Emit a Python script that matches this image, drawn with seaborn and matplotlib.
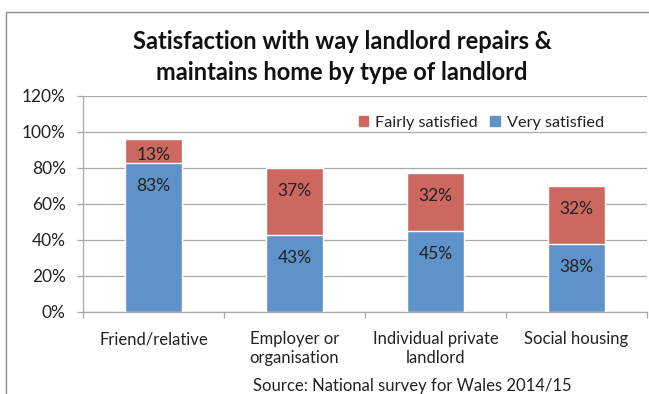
import matplotlib
matplotlib.use("Agg")
import matplotlib.pyplot as plt
from matplotlib.patches import Rectangle
from matplotlib.ticker import FuncFormatter, FixedLocator
import seaborn as sns
import pandas as pd

# Survey results (% of renters)
categories = ["Friend/relative", "Employer or\norganisation",
              "Individual private\nlandlord", "Social housing"]
very_satisfied = [83, 43, 45, 38]
fairly_satisfied = [13, 37, 32, 32]
series_names = ["Fairly satisfied", "Very satisfied"]
title = "Satisfaction with way landlord repairs &\nmaintains home by type of landlord"
source = "Source: National survey for Wales 2014/15"

RED = "#CC6860"
BLUE = "#5E92C8"
GRID = "#A8A8A8"
TEXT = "#222222"

sns.set_theme(style="white")
plt.rcParams["font.family"] = ["Lato", "DejaVu Sans"]

df = pd.DataFrame({
    "category": categories,
    "very": very_satisfied,
    "fairly": fairly_satisfied,
})
df["total"] = df["very"] + df["fairly"]

fig = plt.figure(figsize=(6.49, 3.94), dpi=100)
W, H = 649, 394
ax = fig.add_axes([83 / W, (H - 312) / H, (647 - 83) / W, (312 - 96) / H])

# stacked bars: full height in red, lower part in blue on top
sns.barplot(data=df, x="category", y="total", color=RED, width=0.4,
            saturation=1, ax=ax, zorder=3)
sns.barplot(data=df, x="category", y="very", color=BLUE, width=0.4,
            saturation=1, ax=ax, zorder=3)

ax.set_ylim(0, 120)
ax.set_xlim(-0.5, len(categories) - 0.5)
ax.yaxis.set_major_locator(FixedLocator(range(0, 121, 20)))
ax.yaxis.set_major_formatter(FuncFormatter(lambda v, _: f"{v:.0f}%"))
ax.grid(axis="y", color=GRID, linewidth=0.9, zorder=0)
ax.set_axisbelow(True)
ax.set_xlabel("")
ax.set_ylabel("")

for side in ("top", "right"):
    ax.spines[side].set_visible(False)
for side in ("left", "bottom"):
    ax.spines[side].set_color(GRID)
    ax.spines[side].set_linewidth(0.9)

ax.tick_params(axis="y", which="major", left=True, length=4.5, width=0.9,
               color=GRID, pad=8, labelsize=12.5, labelcolor=TEXT)
ax.tick_params(axis="x", which="major", bottom=False, pad=8,
               labelsize=12, labelcolor=TEXT)
ax.set_xticks(range(len(categories)))
ax.set_xticklabels(categories, linespacing=1.2)
ax.set_xticks([i - 0.5 for i in range(len(categories) + 1)], minor=True)
ax.tick_params(axis="x", which="minor", bottom=True, length=4.5, width=0.9,
               color=GRID)

# value labels just inside the top of each segment
px_per_unit = (312 - 96) / 120.0
for i, (v, f) in enumerate(zip(very_satisfied, fairly_satisfied)):
    for top, seg in ((v, v), (v + f, f)):
        off_px = min(23.0, 0.68 * seg * px_per_unit)
        ax.annotate(f"{seg}%", xy=(i, top), xytext=(0, -off_px * 72 / 100),
                    textcoords="offset points", ha="center", va="center",
                    fontsize=12.5, color=TEXT, zorder=5)

# legend
handles = [plt.Rectangle((0, 0), 1, 1, color=RED),
           plt.Rectangle((0, 0), 1, 1, color=BLUE)]
fig.legend(handles, series_names, loc="center left",
           bbox_to_anchor=(352 / W, (H - 123) / H), ncol=2, frameon=False,
           fontsize=11.7, handlelength=0.6, handleheight=0.6,
           handletextpad=0.4, columnspacing=0.8, borderaxespad=0,
           labelcolor=TEXT)

fig.text(342 / W, (H - 57) / H, title, ha="center", va="center",
         fontsize=17, fontweight="bold", color="#111111", linespacing=1.38)
fig.text(412 / W, (H - 378.5) / H, source, ha="center", va="top",
         fontsize=12, color=TEXT)

# outer chart frame
fig.patches.append(Rectangle((5.5 / W, -0.1), 1.2, (H - 12) / H + 0.1,
                             transform=fig.transFigure, fill=False,
                             edgecolor="#8C8C8C", linewidth=1.0,
                             clip_on=False))

fig.savefig("out.png", dpi=100)
